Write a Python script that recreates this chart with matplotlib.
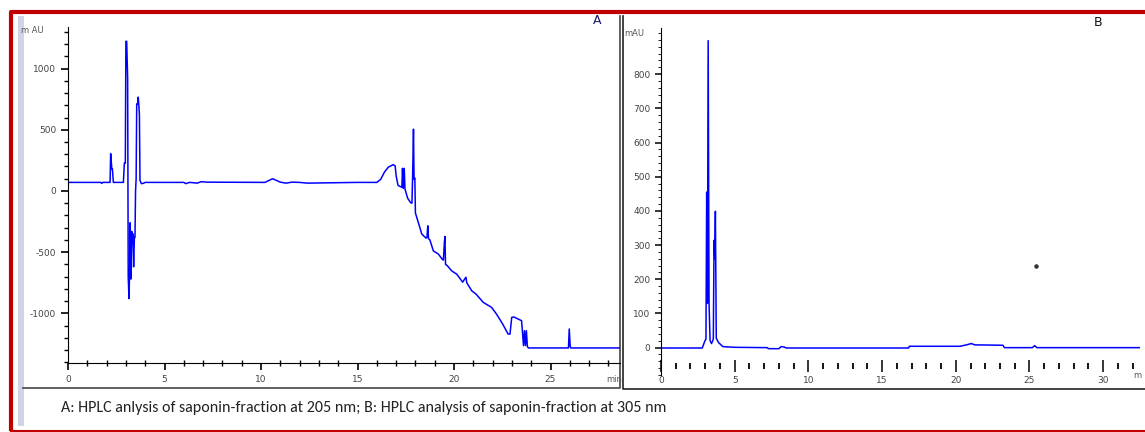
import matplotlib
matplotlib.use("Agg")
import matplotlib.pyplot as plt
from matplotlib import font_manager
from matplotlib.ticker import MultipleLocator

plt.rcParams["axes.unicode_minus"] = False

# chromatogram A (205 nm): retention time [min], signal [mAU]
time_a = [0, 1.7, 1.75, 1.8, 2.18, 2.21, 2.27, 2.3, 2.35, 2.87, 2.92, 2.97, 3.0, 3.04, 3.09,
          3.12, 3.16, 3.2, 3.22, 3.26, 3.3, 3.33, 3.36, 3.4, 3.44, 3.47, 3.5, 3.53, 3.56,
          3.6, 3.64, 3.67, 3.7, 3.73, 3.8, 3.9, 4.0, 6.0, 6.1, 6.3, 6.7, 6.9, 7.2, 10.2,
          10.6, 11.0, 11.3, 11.6, 12.0, 12.4, 15.0, 16.0, 16.2, 16.4, 16.6, 16.85, 16.95,
          17.0, 17.1, 17.3, 17.33, 17.37, 17.42, 17.46, 17.6, 17.75, 17.82, 17.86, 17.9,
          17.93, 17.97, 18.0, 18.15, 18.33, 18.55, 18.6, 18.64, 18.68, 18.75, 18.93, 19.19,
          19.4, 19.45, 19.5, 19.53, 19.56, 19.65, 19.88, 20.14, 20.45, 20.55, 20.62, 20.66,
          20.92, 21.14, 21.52, 21.95, 22.2, 22.52, 22.8, 22.9, 22.99, 23.1, 23.5, 23.55,
          23.6, 23.65, 23.7, 23.75, 23.8, 23.85, 25.93, 25.97, 26.02, 26.05, 28.6]
signal_a = [70, 70, 62, 70, 70, 305, 180, 180, 70, 70, 228, 228, 1223, 1223, 924,
            -700, -880, -600, -260, -720, -330, -420, -350, -620, -380, -380, 0, 100, 710,
            710, 767, 700, 620, 85, 60, 62, 70, 70, 60, 70, 64, 76, 72, 70,
            100, 72, 64, 72, 70, 64, 70, 70, 95, 155, 195, 215, 205,
            125, 45, 30, 185, 20, 185, 15, -60, -95, -100, 150, 505,
            95, 105, -180, -258, -352, -385, -380, -285, -390, -400, -490, -516,
            -560, -565, -420, -372, -600, -610, -653, -680, -745, -720, -705, -750,
            -816, -843, -911, -952, -1006, -1087, -1169, -1170, -1033, -1030, -1060, -1160,
            -1264, -1142, -1264, -1142, -1270, -1283, -1283, -1128, -1270, -1283, -1283]

# chromatogram B (305 nm)
time_b = [0, 2.8, 2.98, 3.05, 3.1, 3.15, 3.2, 3.26, 3.33, 3.43, 3.55, 3.6, 3.65, 3.69,
          3.75, 3.9, 4.2, 5.0, 7.2, 7.3, 8.0, 8.15, 8.35, 8.5, 16.8, 16.85, 20.3, 20.8,
          21.06, 21.3, 21.6, 23.2, 23.3, 25.2, 25.35, 25.5, 32.5]
signal_b = [-1, -1, 20, 25, 455, 130, 898, 130, 20, 12, 25, 314, 260, 399,
            28, 15, 3, 1, 0, -3, -3, 3, 2, -1, -1, 4, 4, 9,
            12, 8, 8, 7, 0, 0, 6, 0, 0]
dot_b = (25.47, 238)

yticks_a = [-1000, -500, 0, 500, 1000]
yticks_b = [0, 100, 200, 300, 400, 500, 600, 700, 800]
caption = "A: HPLC anlysis of saponin-fraction at 205 nm; B: HPLC analysis of saponin-fraction at 305 nm"

W, H = 1145, 432
available = {f.name for f in font_manager.fontManager.ttflist}
tick_font = "Liberation Sans Narrow" if "Liberation Sans Narrow" in available else "DejaVu Sans"
cap_font = "Carlito" if "Carlito" in available else "Liberation Sans"


def box(x0, y0, x1, y1):
    return [x0 / W, 1 - y1 / H, (x1 - x0) / W, (y1 - y0) / H]


fig = plt.figure(figsize=(W / 100, H / 100), dpi=100)

# page decoration: red frame, panel boxes, caption
bg = fig.add_axes([0, 0, 1, 1], zorder=0)
bg.set_xlim(0, W)
bg.set_ylim(H, 0)
bg.axis("off")
bg.plot([10.5, 10.5, 1150], [431, 12, 12], color="#c00000", lw=3, solid_capstyle="butt")
bg.plot([10.5, 1150], [430.5, 430.5], color="#c00000", lw=1.5)
bg.fill_between([18, 23.5], [16, 16], [426, 426], color="#cdd5e6", lw=0)
bg.plot([23, 620, 620], [388, 388, 16], color="#444444", lw=1.2)
bg.plot([622.5, 622.5, 1150], [16, 389, 389], color="#222222", lw=1.2)
bg.text(61, 408, caption, fontsize=11.5, family=cap_font, color="#222222", va="center")
bg.text(597, 21, "A", fontsize=9, color="#1a1a66", ha="center", va="center")
bg.text(1098, 23, "B", fontsize=9, color="#111111", ha="center", va="center")

# panel A
ax = fig.add_axes(box(68, 27, 620, 363), zorder=2)
ax.patch.set_alpha(0)
ax.plot(time_a, signal_a, color="#0000ff", lw=1.1)
ax.set_xlim(0, 28.6)
ax.set_ylim(-1406, 1340)
ax.spines["top"].set_visible(False)
ax.spines["right"].set_visible(False)
ax.set_yticks(yticks_a)
ax.yaxis.set_minor_locator(MultipleLocator(100))
ax.xaxis.set_major_locator(MultipleLocator(5))
ax.xaxis.set_minor_locator(MultipleLocator(1))
ax.tick_params(axis="both", which="major", labelsize=6.5, labelcolor="#444444", length=5, width=1.2)
ax.tick_params(axis="both", which="minor", length=3, width=1)
ax.tick_params(axis="x", which="minor", direction="inout", length=5)
for lab in ax.get_xticklabels() + ax.get_yticklabels():
    lab.set_family(tick_font)
ax.text(-0.045, 0.99, "m AU", transform=ax.transAxes, fontsize=6, family=tick_font,
        color="#555555", ha="right", va="center")
ax.text(0.975, -0.05, "min", transform=ax.transAxes, fontsize=6, family=tick_font,
        color="#555555", ha="left", va="center", clip_on=False)

# panel B
bx = fig.add_axes(box(661, 28, 1140, 375), zorder=2)
bx.patch.set_alpha(0)
bx.plot(time_b, signal_b, color="#0000ff", lw=1.1)
bx.scatter([dot_b[0]], [dot_b[1]], s=5, color="#333333", zorder=3)
bx.set_xlim(0, 32.5)
bx.set_ylim(-80, 935)
bx.spines["top"].set_visible(False)
bx.spines["right"].set_visible(False)
bx.spines["bottom"].set_position(("data", -53))
bx.spines["bottom"].set_visible(False)
bx.set_yticks(yticks_b)
bx.yaxis.set_minor_locator(MultipleLocator(20))
bx.xaxis.set_major_locator(MultipleLocator(5))
bx.xaxis.set_minor_locator(MultipleLocator(1))
bx.tick_params(axis="both", which="major", labelsize=6.5, labelcolor="#444444", width=1.1)
bx.tick_params(axis="y", which="major", length=4)
bx.tick_params(axis="y", which="minor", length=2)
bx.tick_params(axis="x", which="major", direction="inout", length=9, pad=3)
bx.tick_params(axis="x", which="minor", direction="inout", length=4, width=1.3)
for lab in bx.get_xticklabels() + bx.get_yticklabels():
    lab.set_family(tick_font)
bx.text(-0.035, 0.985, "mAU", transform=bx.transAxes, fontsize=6, family=tick_font,
        color="#555555", ha="right", va="center")
bx.text(0.985, 0.0, "m", transform=bx.transAxes, fontsize=6, family=tick_font,
        color="#555555", ha="left", va="center", clip_on=False)

fig.savefig("out.png", dpi=100)
